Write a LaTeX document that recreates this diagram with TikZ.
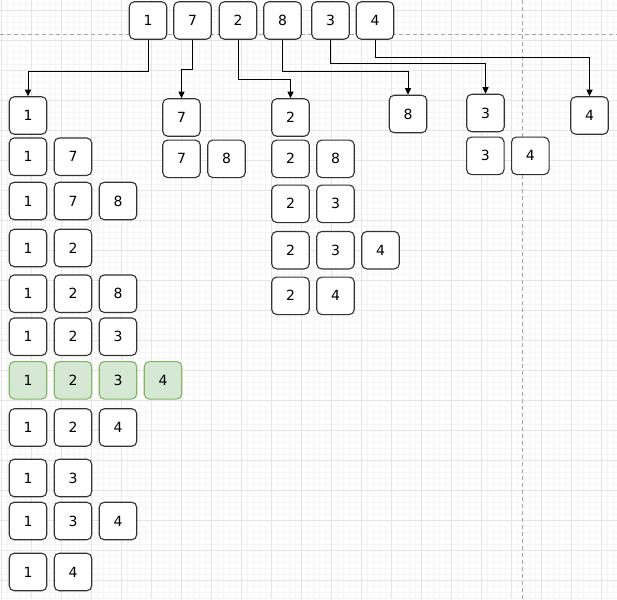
\documentclass[tikz,border=0pt]{standalone}
\usepackage{fontspec}
\setmainfont{DejaVu Sans}
\usetikzlibrary{arrows.meta}
\definecolor{hitfill}{HTML}{D5E8D4}
\definecolor{hitdraw}{HTML}{82B366}
\tikzset{
cell/.style={draw=black!80,fill=white,line width=1.1pt,rounded corners=5pt,minimum size=37.5pt,inner sep=0pt},
hit/.style={cell,draw=hitdraw,fill=hitfill},
arr/.style={-{Triangle[length=6.5pt,width=6pt]},line width=1pt},
gridminor/.style={line width=0.5pt,color=black!4},
gridmajor/.style={line width=0.8pt,color=black!10},
divider/.style={dash pattern=on 4pt off 3pt,line width=0.8pt,color=black!35},
}
\tikzstyle{every node}=[font=\fontsize{14pt}{16pt}\selectfont]

\begin{document}
\begin{tikzpicture}[x=1pt,y=-1pt]
        \useasboundingbox (0,0) rectangle (617,599);
        % background grid
        \foreach \x in {1.7,7.7,...,617} \draw[gridminor] (\x,0) -- (\x,599);
        \foreach \y in {4.7,10.7,...,599} \draw[gridminor] (0,\y) -- (617,\y);
        \foreach \x in {1.7,31.7,...,617} \draw[gridmajor] (\x,0) -- (\x,599);
        \foreach \y in {10.7,40.7,...,599} \draw[gridmajor] (0,\y) -- (617,\y);
        \draw[divider] (0,34) -- (617,34);
        \draw[divider] (522.7,0) -- (522.7,599);

        % input row
        \node[cell] (t1) at (148,20.5) {1};
        \node[cell] (t7) at (192.5,20.5) {7};
        \node[cell] (t2) at (238,20.5) {2};
        \node[cell] (t8) at (282.5,20.5) {8};
        \node[cell] (t3) at (330.5,20.5) {3};
        \node[cell] (t4) at (375,20.5) {4};

        % first element of each subset
        \node[cell] (a1) at (28,115.5) {1};
        \node[cell] (b7) at (181.5,117.5) {7};
        \node[cell] (c2) at (290.5,117.5) {2};
        \node[cell] (d8) at (408,114) {8};
        \node[cell] (e3) at (485.5,113) {3};
        \node[cell] (f4) at (589.5,115.5) {4};

        \draw[arr] (t1.south) -- ++(0,32) -| (a1.north);
        \draw[arr] (t7.south) -- ++(0,30) -| (b7.north);
        \draw[arr] (t2.south) -- ++(0,40) -| (c2.north);
        \draw[arr] (t8.south) -- ++(0,32) -| (d8.north);
        \draw[arr] (t3.south) -- ++(0,24) -| (e3.north);
        \draw[arr] (t4.south) -- ++(0,18) -| (f4.north);

        % longer subsets, one row each
        \foreach \r/\x/\y/\cells in {l1/28/156.7/{1,7}, l2/28/201/{1,7,8},
            l3/28/248/{1,2}, l4/28/293.7/{1,2,8}, l5/28/336.7/{1,2,3},
            l7/28/427.5/{1,2,4}, l8/28/478/{1,3}, l9/28/521/{1,3,4},
            l10/28/572/{1,4}, m1/181.5/158.8/{7,8}, n1/290.5/158.8/{2,8},
            n2/290.5/203.8/{2,3}, n3/290.5/250.2/{2,3,4}, n4/290.5/295.8/{2,4},
            q1/485.3/155.8/{3,4}}
            \foreach \c [count=\k from 0] in \cells
                \node[cell] (\r-\k) at (\x+45*\k,\y) {\c};

        % the subset that is found
        \foreach \c [count=\k from 0] in {1,2,3,4}
            \node[hit] (l6-\k) at (28+45*\k,380.3) {\c};
    \end{tikzpicture}
\end{document}
